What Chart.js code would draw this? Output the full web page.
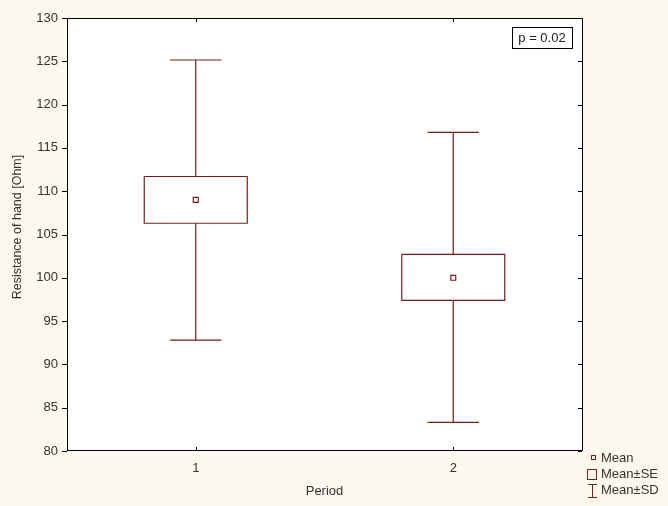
<!DOCTYPE html>
<html>
<head>
<meta charset="utf-8">
<script src="https://cdn.jsdelivr.net/npm/chart.js@4.4.1/dist/chart.umd.min.js"></script>
<style>
  html, body { margin: 0; padding: 0; background: #fdf9ef; }
  #wrap { width: 668px; height: 506px; position: relative; }
</style>
</head>
<body>
<div id="wrap"><canvas id="boxChart"></canvas></div>
<script>
// Data
const periods = [1, 2];
const means = [109.0, 100.0];
const seLow = [106.3, 97.4];
const seHigh = [111.7, 102.7];
const sdLow = [92.8, 83.3];
const sdHigh = [125.15, 116.8];
const yTicks = [80, 85, 90, 95, 100, 105, 110, 115, 120, 125, 130];
const yTitle = "Resistance of hand [Ohm]";
const pText = "p = 0.02";
const legendLabels = ["Mean", "Mean\u00b1SE", "Mean\u00b1SD"];

const lineColor = "#7a1c1c";
const textColor = "#333333";
const fontFamily = "'Liberation Sans', Arial, sans-serif";
const boxHalf = 0.2;
const capHalf = 0.1;

// build outline points for SE boxes (null breaks between groups)
const boxPoints = [];
periods.forEach((p, i) => {
  boxPoints.push({ x: p - boxHalf, y: seHigh[i] });
  boxPoints.push({ x: p + boxHalf, y: seHigh[i] });
  boxPoints.push({ x: p + boxHalf, y: seLow[i] });
  boxPoints.push({ x: p - boxHalf, y: seLow[i] });
  boxPoints.push({ x: p - boxHalf, y: seHigh[i] });
  boxPoints.push({ x: p, y: null });
});

// whiskers and caps for SD
const whiskerPoints = [];
periods.forEach((p, i) => {
  whiskerPoints.push({ x: p, y: seHigh[i] }, { x: p, y: sdHigh[i] }, { x: p, y: null });
  whiskerPoints.push({ x: p - capHalf, y: sdHigh[i] }, { x: p + capHalf, y: sdHigh[i] }, { x: p, y: null });
  whiskerPoints.push({ x: p, y: seLow[i] }, { x: p, y: sdLow[i] }, { x: p, y: null });
  whiskerPoints.push({ x: p - capHalf, y: sdLow[i] }, { x: p + capHalf, y: sdLow[i] }, { x: p, y: null });
});

const meanPoints = periods.map((p, i) => ({ x: p, y: means[i] }));

// white plot area, frame, inward mirror ticks, y title, p-value box and legend
const framePlugin = {
  id: "frame",
  beforeDraw(chart) {
    const { ctx, chartArea: a } = chart;
    ctx.save();
    ctx.fillStyle = "#ffffff";
    ctx.fillRect(a.left, a.top, a.right - a.left, a.bottom - a.top);
    ctx.restore();
  },
  afterDraw(chart) {
    const { ctx, chartArea: a, scales } = chart;
    ctx.save();
    ctx.strokeStyle = "#000000";
    ctx.lineWidth = 1;
    ctx.strokeRect(Math.round(a.left) + 0.5, Math.round(a.top) + 0.5,
      Math.round(a.right - a.left), Math.round(a.bottom - a.top) - 1);

    ctx.beginPath();
    yTicks.forEach(v => {
      const y = Math.round(scales.y.getPixelForValue(v)) + 0.5;
      ctx.moveTo(a.left - 5, y); ctx.lineTo(a.left, y);
      ctx.moveTo(a.right - 4, y); ctx.lineTo(a.right, y);
    });
    periods.forEach(p => {
      const x = Math.round(scales.x.getPixelForValue(p)) + 0.5;
      ctx.moveTo(x, a.bottom); ctx.lineTo(x, a.bottom - 4);
      ctx.moveTo(x, a.top); ctx.lineTo(x, a.top + 4);
    });
    ctx.stroke();

    // y axis title (sits a bit above the plot centre in the original)
    ctx.save();
    ctx.translate(18, 227);
    ctx.rotate(-Math.PI / 2);
    ctx.font = "12.5px " + fontFamily;
    ctx.fillStyle = textColor;
    ctx.textAlign = "center";
    ctx.textBaseline = "middle";
    ctx.fillText(yTitle, 0, 0);
    ctx.restore();

    // p-value box
    ctx.font = "13px " + fontFamily;
    ctx.fillStyle = "#222";
    ctx.textBaseline = "middle";
    ctx.textAlign = "center";
    const bx = a.right - 70, by = a.top + 9, bw = 60, bh = 21;
    ctx.strokeRect(bx + 0.5, by + 0.5, bw, bh);
    ctx.fillText(pText, bx + bw / 2, by + bh / 2 + 1);

    // legend
    ctx.textAlign = "left";
    ctx.font = "13px " + fontFamily;
    ctx.fillStyle = textColor;
    ctx.strokeStyle = lineColor;
    const lx = a.right + 10;
    ctx.strokeRect(lx - 0.5, 455.5, 4, 4);
    ctx.strokeRect(lx - 4.5, 469.5, 9, 10);
    ctx.beginPath();
    ctx.moveTo(lx - 4, 484.5); ctx.lineTo(lx + 5, 484.5);
    ctx.moveTo(lx + 0.5, 484.5); ctx.lineTo(lx + 0.5, 498);
    ctx.moveTo(lx - 4, 497.5); ctx.lineTo(lx + 5, 497.5);
    ctx.stroke();
    ctx.fillText(legendLabels[0], lx + 9, 458);
    ctx.fillText(legendLabels[1], lx + 9, 474);
    ctx.fillText(legendLabels[2], lx + 9, 490);
    ctx.restore();
  }
};

new Chart(document.getElementById("boxChart"), {
  type: "scatter",
  data: {
    datasets: [
      {
        type: "line",
        data: boxPoints,
        borderColor: lineColor,
        borderWidth: 1.2,
        pointRadius: 0,
        spanGaps: false,
        fill: false,
        tension: 0,
      },
      {
        type: "line",
        data: whiskerPoints,
        borderColor: lineColor,
        borderWidth: 1.2,
        pointRadius: 0,
        spanGaps: false,
        fill: false,
        tension: 0,
      },
      {
        data: meanPoints,
        pointStyle: "rect",
        pointRadius: 3.5,
        borderColor: lineColor,
        backgroundColor: "#ffffff",
        borderWidth: 1.2,
      },
    ],
  },
  options: {
    responsive: true,
    maintainAspectRatio: false,
    animation: false,
    layout: { padding: { top: 18, right: 86, left: 0, bottom: 0 } },
    plugins: { legend: { display: false }, tooltip: { enabled: false } },
    scales: {
      x: {
        type: "linear",
        min: 0.5,
        max: 2.5,
        afterBuildTicks: (scale) => { scale.ticks = periods.map(v => ({ value: v })); },
        afterFit: (scale) => { scale.height = 55; },
        grid: { display: false, drawTicks: false },
        border: { display: false },
        ticks: {
          color: textColor,
          padding: 10,
          font: { family: fontFamily, size: 13 },
        },
        title: {
          display: true,
          text: "Period",
          color: textColor,
          font: { family: fontFamily, size: 13 },
          padding: { top: 0, bottom: 7 },
        },
      },
      y: {
        min: 80,
        max: 130,
        afterBuildTicks: (scale) => { scale.ticks = yTicks.map(v => ({ value: v })); },
        afterFit: (scale) => { scale.width = 67; },
        grid: { display: false, drawTicks: false },
        border: { display: false },
        ticks: {
          color: textColor,
          padding: 9,
          font: { family: fontFamily, size: 13 },
        },
      },
    },
  },
  plugins: [framePlugin],
});
</script>
</body>
</html>
